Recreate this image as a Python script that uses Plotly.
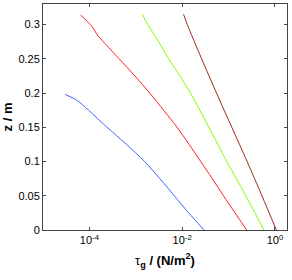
import plotly.graph_objects as go

# z (m) and log10(tau_g)
blue_z = [0.198, 0.196, 0.19, 0.175, 0.15, 0.125, 0.1, 0.075, 0.05, 0.025, 0.01, 0.0]
blue_logtau = [-4.52, -4.46, -4.28, -4.02, -3.62, -3.20, -2.81, -2.48, -2.17, -1.86, -1.66, -1.53]

red_z = [0.314, 0.305, 0.295, 0.285, 0.275, 0.25, 0.225, 0.2, 0.175, 0.15, 0.125, 0.1,
         0.075, 0.05, 0.025, 0.0]
red_logtau = [-4.19, -4.05, -3.92, -3.83, -3.70, -3.36, -3.02, -2.70, -2.40, -2.11, -1.85,
              -1.60, -1.35, -1.11, -0.86, -0.61]

green_z = [0.315, 0.3, 0.275, 0.25, 0.225, 0.2, 0.175, 0.15, 0.125, 0.1, 0.075, 0.05, 0.025, 0.0]
green_logtau = [-2.86, -2.74, -2.51, -2.29, -2.05, -1.82, -1.62, -1.425, -1.23, -1.04, -0.83,
                -0.63, -0.43, -0.24]

brown_z = [0.315, 0.3, 0.25, 0.2, 0.15, 0.1, 0.05, 0.0]
brown_logtau = [-1.97, -1.89, -1.58, -1.26, -0.93, -0.60, -0.28, 0.03]

x_tickvals = [1e-4, 1e-2, 1e0]
x_ticktext = ["10<sup>-4</sup>", "10<sup>-2</sup>", "10<sup>0</sup>"]
y_tickvals = [0, 0.05, 0.1, 0.15, 0.2, 0.25, 0.3]
y_ticktext = ["0", "0.05", "0.1", "0.15", "0.2", "0.25", "0.3"]

series = [
    (blue_logtau, blue_z, "#3c64ff"),
    (red_logtau, red_z, "#ff2020"),
    (green_logtau, green_z, "#80ff00"),
    (brown_logtau, brown_z, "#a0281e"),
]

fig = go.Figure()
for lt, z, c in series:
    fig.add_trace(go.Scatter(x=[10 ** v for v in lt], y=z, mode="lines",
                             line=dict(color=c, width=1, shape="spline", smoothing=0.8),
                             showlegend=False))

font = dict(family="Liberation Sans, Arial, sans-serif", size=11, color="black")
fig.update_layout(
    width=292, height=280,
    margin=dict(l=43, r=5, t=4, b=50),
    paper_bgcolor="white", plot_bgcolor="white",
    font=font,
    xaxis=dict(type="log", range=[-5, 0.26], tickvals=x_tickvals, ticktext=x_ticktext,
               ticks="inside", ticklen=3, tickcolor="#444", showgrid=False, zeroline=False,
               showline=True, linecolor="#444", linewidth=1, mirror="ticks",
               title=dict(text="τ<sub><b>g</b></sub><b> / (N/m<sup>2</sup>)</b>", standoff=10)),
    yaxis=dict(range=[0, 0.33], tickvals=y_tickvals, ticktext=y_ticktext,
               ticks="inside", ticklen=3, tickcolor="#444", showgrid=False, zeroline=False,
               showline=True, linecolor="#444", linewidth=1, mirror="ticks",
               title=dict(text="<b>z / m</b>", standoff=4)),
)
fig.write_html("out.html", config={"displayModeBar": False},
               post_script="document.body.style.margin='0';")
